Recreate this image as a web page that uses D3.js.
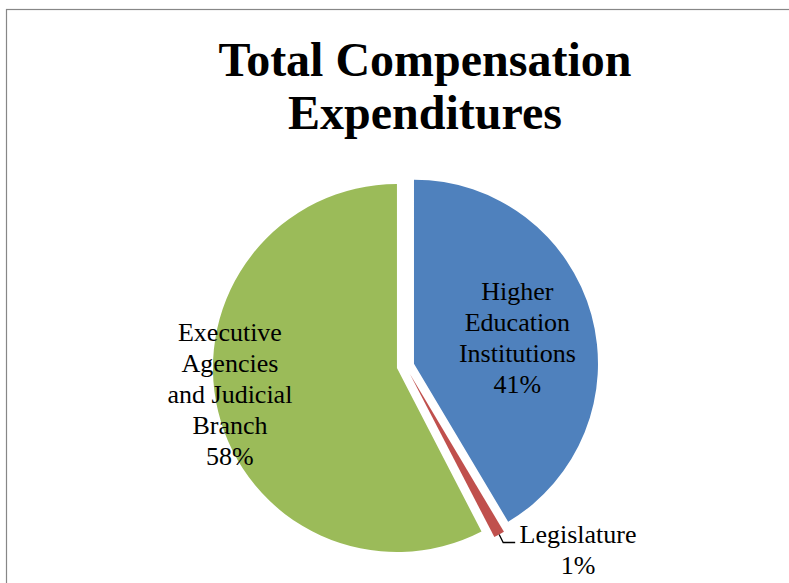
<!DOCTYPE html>
<html>
<head>
<meta charset="utf-8">
<script src="https://cdn.jsdelivr.net/npm/d3@7/dist/d3.min.js"></script>
<style>
  html, body { margin: 0; padding: 0; background: #fff; }
  svg { display: block; }
</style>
</head>
<body>
<svg id="chart" width="789" height="583"></svg>
<script>
// ---- data ----
const categories = ["Higher Education Institutions", "Legislature", "Executive Agencies and Judicial Branch"];
const values = [41.45, 0.95, 57.6];
const percentLabels = ["41%", "1%", "58%"];
const labelLines = [
  ["Higher", "Education", "Institutions", "41%"],
  ["Legislature", "1%"],
  ["Executive", "Agencies", "and Judicial", "Branch", "58%"]
];
const colors = ["#4F81BD", "#C0504D", "#9BBB59"];
const titleLines = ["Total Compensation", "Expenditures"];

// ---- layout ----
const W = 789, H = 583;
const cx = 405.5, cy = 366, R = 184, explode = 8.8;
const svg = d3.select("#chart");
const fontFamily = "'Liberation Serif', 'Times New Roman', serif";

// chart border (extends past the window on right/bottom)
svg.append("rect")
  .attr("x", 6.5).attr("y", 9.5)
  .attr("width", W + 20).attr("height", H + 20)
  .attr("fill", "none").attr("stroke", "#878787").attr("stroke-width", 1.2);

// title
svg.append("text")
  .attr("text-anchor", "middle")
  .attr("font-family", fontFamily)
  .attr("font-weight", "bold").attr("font-size", 48)
  .selectAll("tspan").data(titleLines).join("tspan")
  .attr("x", 425).attr("y", (d, i) => i === 0 ? 76 : 129)
  .text(d => d);

const pie = d3.pie().sort(null).startAngle(0).endAngle(2 * Math.PI);
const arcs = pie(values);
const arc = d3.arc().innerRadius(0).outerRadius(R);

function offset(a, e) {
  const m = (a.startAngle + a.endAngle) / 2;
  return [e * Math.sin(m), -e * Math.cos(m)];
}

const g = svg.append("g").attr("transform", `translate(${cx},${cy})`);

g.selectAll("path.slice").data(arcs).join("path")
  .attr("class", "slice")
  .attr("d", arc)
  .attr("fill", (d, i) => colors[i])
  .attr("transform", d => { const o = offset(d, explode); return `translate(${o[0]},${o[1]})`; });

// labels: inside for large slices, outside for the tiny one
const labelPos = [
  { r: 0.58, da: 0.02 },   // blue
  { r: 1.17, da: 0.0 },    // red (outside)
  { r: 0.919, da: 0.082 }  // green
];
const lineH = 31;

arcs.forEach((a, i) => {
  const o = offset(a, explode);
  const m = (a.startAngle + a.endAngle) / 2 + labelPos[i].da;
  let lx, ly;
  if (i === 1) {
    lx = 578 - cx; ly = 549 - cy;
  } else {
    lx = o[0] + R * labelPos[i].r * Math.sin(m);
    ly = o[1] - R * labelPos[i].r * Math.cos(m);
  }
  const lines = labelLines[i];
  const t = g.append("text")
    .attr("text-anchor", "middle")
    .attr("font-family", fontFamily)
    .attr("font-size", 26)
    .attr("fill", "#000");
  const y0 = ly - (lines.length - 1) * lineH / 2 + 9;
  t.selectAll("tspan").data(lines).join("tspan")
    .attr("x", lx).attr("y", (d, k) => y0 + k * lineH)
    .text(d => d);
});

// leader line for Legislature
{
  const a = arcs[1];
  const o = offset(a, explode);
  const m = (a.startAngle + a.endAngle) / 2;
  const p0 = [o[0] + R * Math.sin(m), o[1] - R * Math.cos(m)];
  const p1 = [p0[0] + 4, p0[1] + 8];
  const p2 = [p1[0] + 12, p1[1]];
  g.append("path")
    .attr("d", d3.line()([p0, p1, p2]))
    .attr("fill", "none").attr("stroke", "#000").attr("stroke-width", 1.3);
}
</script>
</body>
</html>
